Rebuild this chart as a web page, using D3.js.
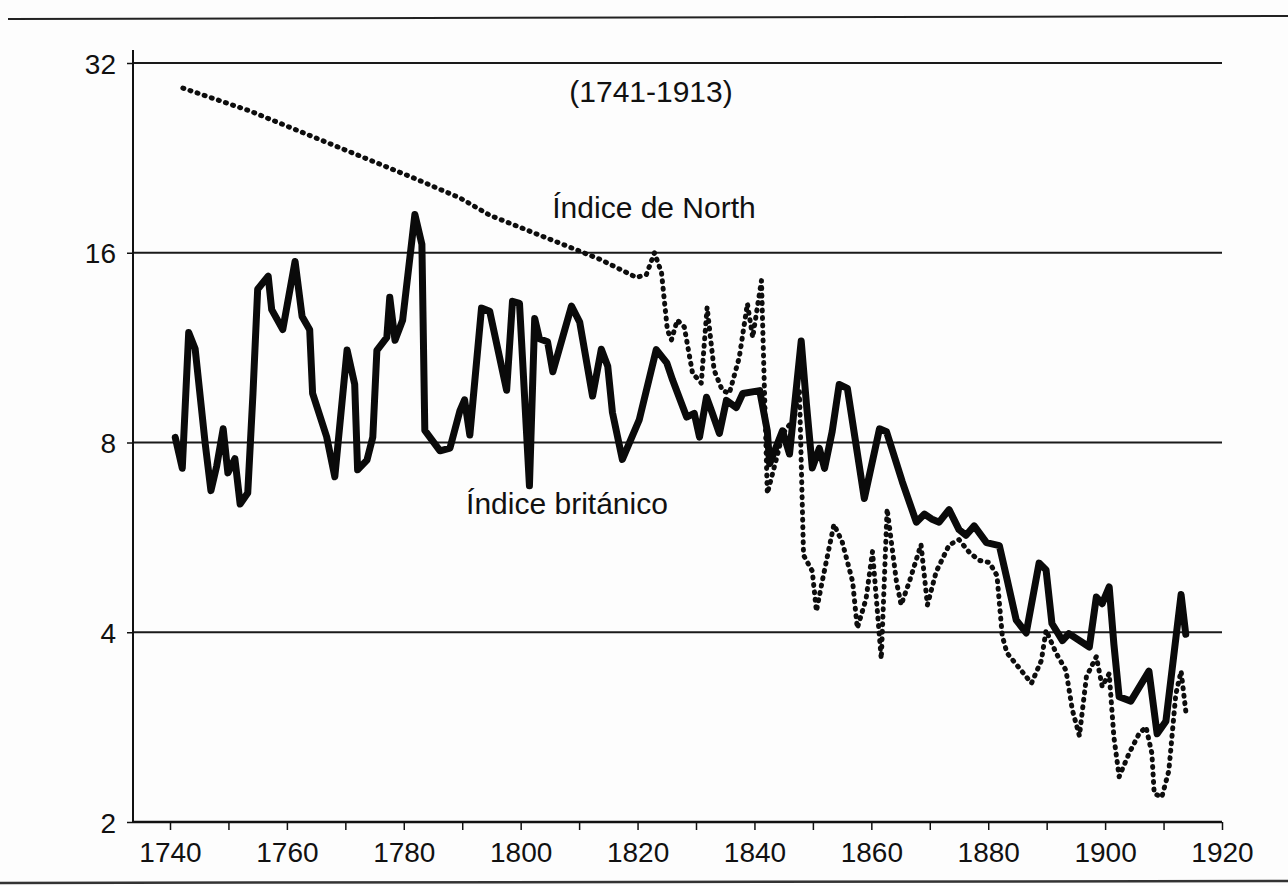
<!DOCTYPE html>
<html>
<head>
<meta charset="utf-8">
<script src="https://cdn.jsdelivr.net/npm/d3@7"></script>
<style>
  html, body { margin: 0; padding: 0; background: #fdfdfd; }
  svg { display: block; }
  text { font-family: "Liberation Sans", Arial, Helvetica, sans-serif; fill: #111; }
</style>
</head>
<body>
<svg id="chart" width="1288" height="886"></svg>
<script>
// ---- Data ----
const britishYears = [1740.9,1742.1,1743.2,1744.3,1746.0,1747.0,1748.0,1749.1,1749.9,1751.1,1752.0,1753.3,1754.2,1755.0,1756.8,1757.4,1759.3,1761.4,1762.6,1763.9,1764.4,1766.8,1768.2,1770.3,1771.6,1772.1,1773.7,1774.7,1775.4,1777.1,1777.6,1778.5,1779.8,1781.9,1783.1,1783.6,1786.2,1787.9,1789.6,1790.4,1791.3,1793.3,1794.7,1797.6,1798.6,1799.8,1801.5,1802.4,1803.2,1804.6,1805.5,1808.7,1810.1,1812.3,1813.8,1814.9,1815.7,1817.4,1820.3,1823.2,1825.0,1826.0,1828.4,1829.7,1830.6,1831.8,1832.8,1834.0,1835.2,1836.9,1838.0,1840.9,1842.2,1842.6,1844.8,1846.0,1848.0,1848.9,1849.9,1851.1,1852.0,1853.3,1854.5,1855.9,1858.8,1861.4,1862.6,1865.3,1867.7,1869.1,1870.3,1871.6,1873.3,1875.0,1876.2,1877.6,1879.7,1881.9,1883.1,1884.8,1886.5,1888.7,1889.9,1890.9,1892.7,1893.8,1897.3,1898.5,1899.5,1900.7,1901.5,1902.4,1904.4,1907.5,1908.9,1910.4,1913.0,1913.8];
const britishValues = [8.15,7.28,11.96,11.27,8.0,6.71,7.35,8.41,7.16,7.54,6.39,6.65,9.58,14.0,14.69,13.0,12.09,15.5,12.68,12.08,9.57,8.17,7.06,11.22,9.9,7.24,7.5,8.16,11.2,11.75,13.6,11.62,12.5,18.4,16.5,8.36,7.76,7.84,8.98,9.35,8.22,13.07,12.92,9.68,13.4,13.3,6.83,12.58,11.69,11.56,10.36,13.17,12.42,9.48,11.25,10.57,8.93,7.52,8.7,11.23,10.7,10.05,8.78,8.9,8.16,9.44,8.9,8.27,9.33,9.09,9.57,9.67,8.35,7.4,8.35,7.67,11.59,9.2,7.29,7.83,7.28,8.33,9.89,9.75,6.52,8.41,8.32,6.93,5.98,6.16,6.05,5.98,6.26,5.82,5.7,5.9,5.55,5.49,4.91,4.18,3.99,5.15,5.02,4.13,3.88,3.98,3.79,4.55,4.44,4.72,3.83,3.16,3.11,3.47,2.76,2.89,4.59,3.97];

const northYears = [1742.2,1753.7,1765.6,1781.5,1789.6,1794.7,1807.9,1813.5,1819.8,1821.5,1822.9,1824.1,1825.1,1825.8,1826.8,1828.0,1829.4,1830.9,1831.9,1833.1,1834.5,1835.7,1837.4,1838.8,1839.7,1841.2,1841.7,1842.2,1843.8,1844.8,1846.5,1847.7,1848.4,1849.9,1850.6,1851.6,1853.6,1855.0,1856.8,1857.6,1859.1,1860.2,1861.7,1862.7,1864.3,1865.1,1866.5,1868.5,1869.6,1871.1,1873.3,1875.0,1876.8,1878.5,1880.2,1881.5,1882.4,1883.2,1885.3,1887.4,1889.1,1889.9,1891.6,1893.3,1894.4,1895.6,1896.8,1898.5,1899.5,1900.7,1901.5,1902.4,1904.1,1905.8,1907.0,1908.0,1908.4,1909.7,1910.9,1912.1,1913.0,1913.8];
const northValues = [29.2,26.85,24.2,21.06,19.55,18.35,16.4,15.63,14.62,14.77,16.0,14.87,12.07,11.64,12.51,12.2,10.31,9.94,13.11,10.42,9.68,9.57,10.91,13.29,11.74,14.45,9.77,6.64,7.56,8.25,8.66,9.65,5.3,5.0,4.32,4.82,5.93,5.57,4.81,4.06,4.52,5.37,3.63,6.28,4.81,4.42,4.81,5.51,4.42,4.99,5.5,5.61,5.35,5.2,5.16,4.92,3.95,3.71,3.51,3.32,3.61,4.03,3.71,3.48,3.01,2.74,3.4,3.66,3.28,3.44,2.73,2.36,2.57,2.76,2.83,2.57,2.22,2.19,2.41,3.19,3.47,3.0];

const yTicks = [2, 4, 8, 16, 32];
const xTicks = d3.range(1740, 1921, 10);
const xLabels = d3.range(1740, 1921, 20);
const titleText = "(1741-1913)";
const northLabel = "Índice de North";
const britishLabel = "Índice británico";

// ---- Layout ----
const svg = d3.select("#chart");
const x = d3.scaleLinear().domain([1740, 1920]).range([170, 1222]);
const y = d3.scaleLog().base(2).domain([2, 32]).range([822, 63]);
const axisX0 = 133;

// frame lines (page rules)
svg.append("line").attr("x1", 8).attr("x2", 1288).attr("y1", 19).attr("y2", 16)
  .attr("stroke", "#222").attr("stroke-width", 2);
svg.append("line").attr("x1", 0).attr("x2", 1288).attr("y1", 883).attr("y2", 881)
  .attr("stroke", "#333").attr("stroke-width", 2.5);

// horizontal gridlines
svg.append("g").selectAll("line").data(yTicks.filter(d => d > 2)).join("line")
  .attr("x1", axisX0).attr("x2", x(1920))
  .attr("y1", d => y(d)).attr("y2", d => y(d))
  .attr("stroke", "#1a1a1a").attr("stroke-width", 2);

// y axis
const yAxis = d3.axisLeft(y).tickValues(yTicks).tickFormat(d3.format("d")).tickSize(6).tickPadding(12);
const gy = svg.append("g").attr("transform", `translate(${axisX0},0)`).call(yAxis);
gy.select(".domain").remove();
gy.selectAll(".tick line").attr("stroke", "#111").attr("stroke-width", 1.5);
gy.selectAll(".tick text").attr("font-size", 28).attr("fill", "#111").attr("x", -17).attr("dy", "0.36em");
svg.append("line").attr("x1", axisX0).attr("x2", axisX0).attr("y1", 50).attr("y2", y(2))
  .attr("stroke", "#111").attr("stroke-width", 2);

// x axis
const xAxis = d3.axisBottom(x).tickValues(xTicks)
  .tickFormat(d => xLabels.includes(d) ? d : "").tickSize(8).tickPadding(12);
const gx = svg.append("g").attr("transform", `translate(0,${y(2)})`).call(xAxis);
gx.select(".domain").remove();
gx.selectAll(".tick line").attr("stroke", "#111").attr("stroke-width", 1.5);
gx.selectAll(".tick text").attr("font-size", 28).attr("fill", "#111");
svg.append("line").attr("x1", axisX0).attr("x2", x(1920)).attr("y1", y(2)).attr("y2", y(2))
  .attr("stroke", "#111").attr("stroke-width", 2.5);

// series
const line = d3.line().x(d => x(d[0])).y(d => y(d[1])).curve(d3.curveLinear);
const northData = northYears.map((yr, i) => [yr, northValues[i]]);
const britishData = britishYears.map((yr, i) => [yr, britishValues[i]]);

svg.append("path").datum(northData).attr("d", line)
  .attr("fill", "none").attr("stroke", "#0d0d0d").attr("stroke-width", 5)
  .attr("stroke-linecap", "round").attr("stroke-linejoin", "round")
  .attr("stroke-dasharray", "1,6.5");

svg.append("path").datum(britishData).attr("d", line)
  .attr("fill", "none").attr("stroke", "#0a0a0a").attr("stroke-width", 7)
  .attr("stroke-linejoin", "round").attr("stroke-linecap", "round");

// text labels
svg.append("text").attr("x", 651).attr("y", 102).attr("text-anchor", "middle")
  .attr("font-size", 30).text(titleText);
svg.append("text").attr("x", 654).attr("y", 218).attr("text-anchor", "middle")
  .attr("font-size", 30).text(northLabel);
svg.append("text").attr("x", 567).attr("y", 514).attr("text-anchor", "middle")
  .attr("font-size", 30).text(britishLabel);
</script>
</body>
</html>
